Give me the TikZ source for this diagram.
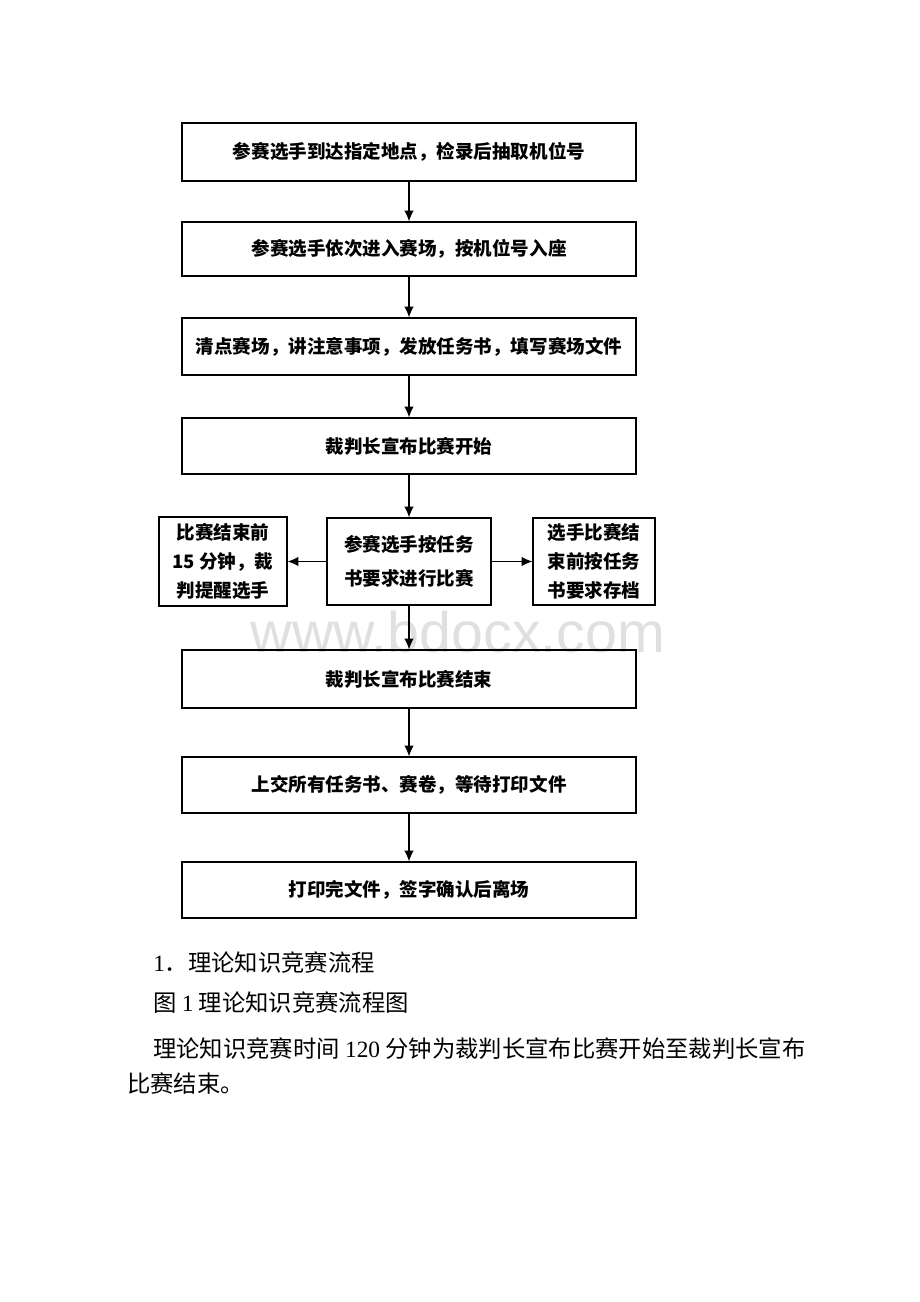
\documentclass[tikz,border=0pt]{standalone}
\usepackage{fontspec}
\usetikzlibrary{arrows.meta}
\newfontfamily\cjk{Noto Sans CJK SC}
\newfontfamily\latinserif{Liberation Serif}
\newfontfamily\wmfont{Liberation Sans}
\begin{document}
\begin{tikzpicture}[x=0.75pt,y=-0.75pt,
  box/.style={draw=black,line width=0.9pt,inner sep=0pt,align=center,
    font=\cjk\bfseries\fontsize{13.9pt}{25.5pt}\selectfont},
  sidebox/.style={box,font=\cjk\bfseries\fontsize{13.9pt}{21.8pt}\selectfont},
  midbox/.style={box,font=\cjk\bfseries\fontsize{13.9pt}{25.5pt}\selectfont},
  flow/.style={line width=0.9pt,-{Latex[length=8pt,width=7pt]}},
  body/.style={anchor=west,inner sep=0pt,font=\cjk\fontsize{17.5pt}{20pt}\selectfont}]
\useasboundingbox (0,0) rectangle (920,1302);
\fill[white] (0,0) rectangle (920,1302);
% watermark
\node[text=black!12,font=\wmfont\fontsize{43pt}{43pt}\selectfont,inner sep=0pt] (wm) at (458,632) {www.bdocx.com};
% main boxes
\node[box,minimum width=454*0.75pt,minimum height=58*0.75pt] (b1) at (409,152) {参赛选手到达指定地点，检录后抽取机位号};
\node[box,minimum width=454*0.75pt,minimum height=54*0.75pt] (b2) at (409,249) {参赛选手依次进入赛场，按机位号入座};
\node[box,minimum width=454*0.75pt,minimum height=57*0.75pt] (b3) at (409,346.5) {清点赛场，讲注意事项，发放任务书，填写赛场文件};
\node[box,minimum width=454*0.75pt,minimum height=56*0.75pt] (b4) at (409,446) {裁判长宣布比赛开始};
\node[midbox,minimum width=164*0.75pt,minimum height=87*0.75pt] (mid) at (409,561.5) {参赛选手按任务\\书要求进行比赛};
\node[sidebox,minimum width=128*0.75pt,minimum height=89*0.75pt] (left) at (223,561.5) {比赛结束前\\15 分钟，裁\\判提醒选手};
\node[sidebox,minimum width=122*0.75pt,minimum height=87*0.75pt] (right) at (594,561.5) {选手比赛结\\束前按任务\\书要求存档};
\node[box,minimum width=454*0.75pt,minimum height=58*0.75pt] (b5) at (409,679) {裁判长宣布比赛结束};
\node[box,minimum width=454*0.75pt,minimum height=56*0.75pt] (b6) at (409,785) {上交所有任务书、赛卷，等待打印文件};
\node[box,minimum width=454*0.75pt,minimum height=56*0.75pt] (b7) at (409,890) {打印完文件，签字确认后离场};
% connectors
\draw[flow] (b1) -- (b2);
\draw[flow] (b2) -- (b3);
\draw[flow] (b3) -- (b4);
\draw[flow] (b4) -- (mid);
\draw[flow] (mid) -- (b5);
\draw[flow] (mid) -- (left);
\draw[flow] (mid) -- (right);
\draw[flow] (b5) -- (b6);
\draw[flow] (b6) -- (b7);
% body text
\node[body] (t1) at (153,963) {{\latinserif 1}．理论知识竞赛流程};
\node[body] (t2) at (153,1003) {图 {\latinserif 1} 理论知识竞赛流程图};
\node[body] (t3) at (153,1049) {理论知识竞赛时间 {\latinserif 120} 分钟为裁判长宣布比赛开始至裁判长宣布};
\node[body] (t4) at (127,1084) {比赛结束。};
\end{tikzpicture}
\end{document}
